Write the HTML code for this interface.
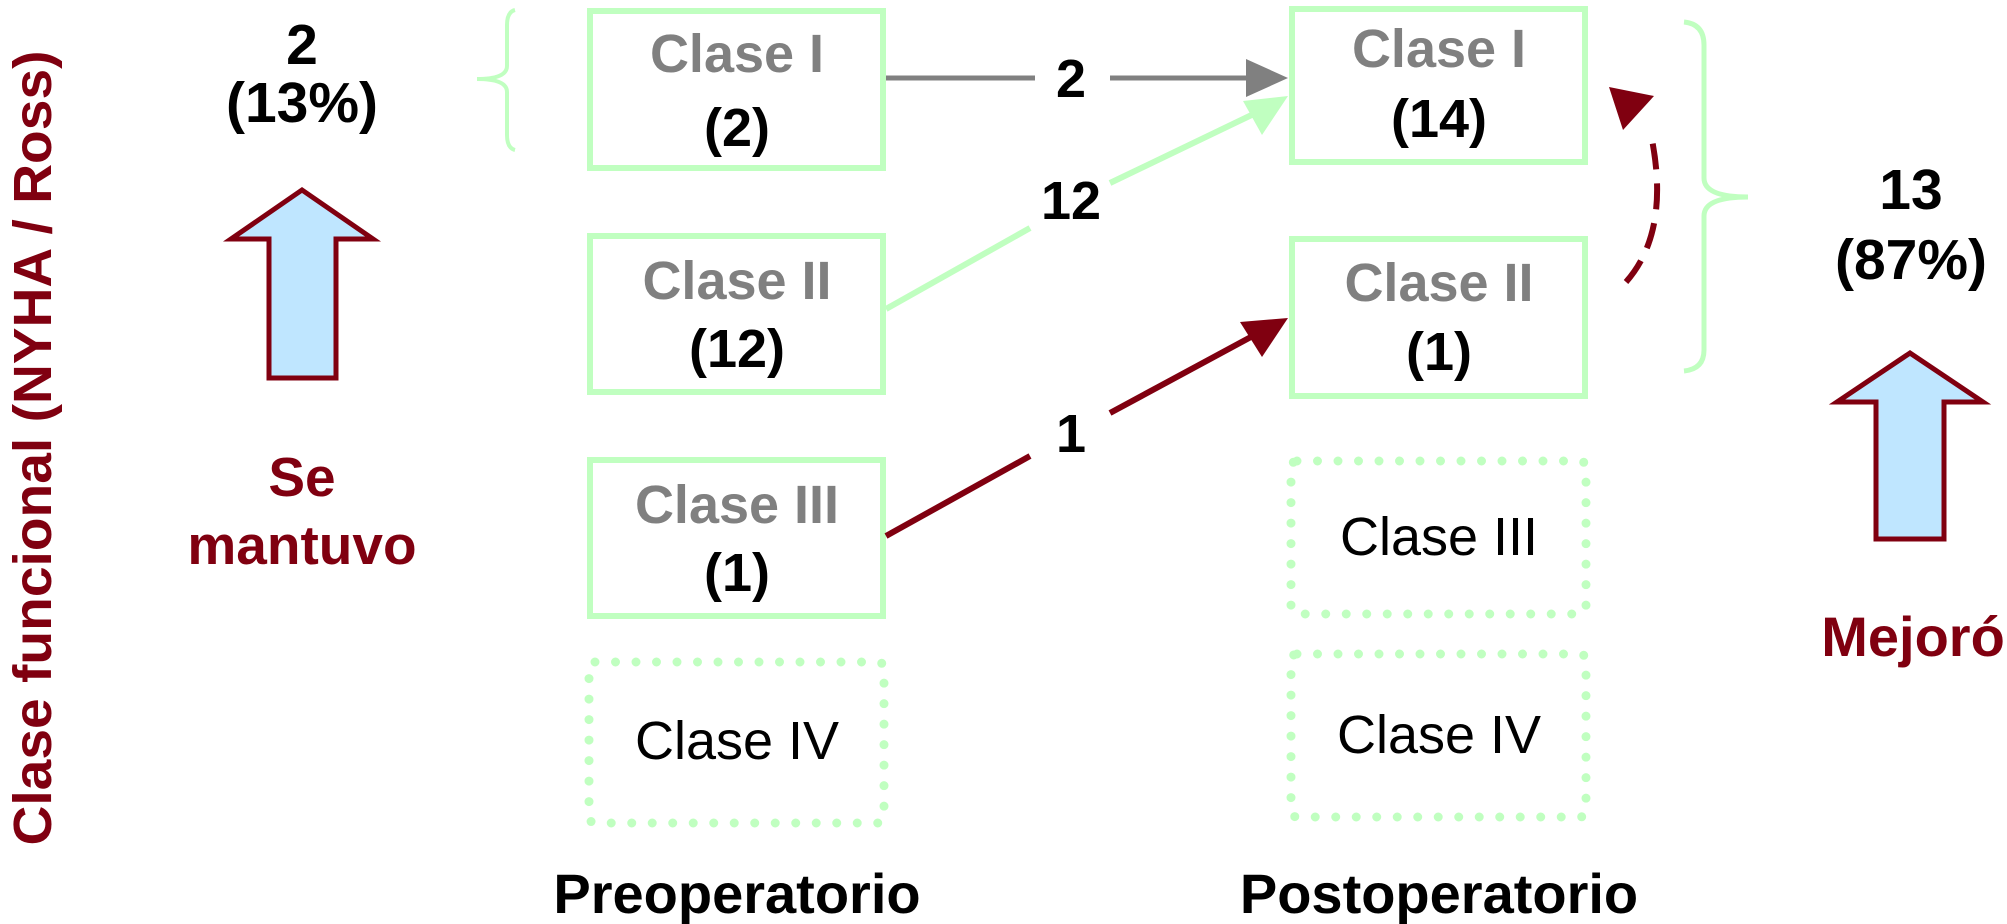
<!DOCTYPE html>
<html><head><meta charset="utf-8"><style>html,body{margin:0;padding:0;background:#fff}svg{display:block}</style></head>
<body>
<svg width="2007" height="924" viewBox="0 0 2007 924" xmlns="http://www.w3.org/2000/svg" font-family="Liberation Sans, Arial, sans-serif">
<!-- vertical title -->
<text transform="translate(51,448) rotate(-90)" text-anchor="middle" font-weight="bold" font-size="54" fill="#800010" textLength="795" lengthAdjust="spacingAndGlyphs">Clase funcional (NYHA / Ross)</text>

<!-- left stats -->
<g font-weight="bold" text-anchor="middle">
<text x="302" y="64" font-size="57">2</text>
<text x="302" y="122" font-size="57">(13%)</text>
<text x="302" y="496" font-size="55" fill="#800010">Se</text>
<text x="302" y="564" font-size="55" fill="#800010">mantuvo</text>
<text x="1911" y="209" font-size="57">13</text>
<text x="1911" y="279" font-size="57">(87%)</text>
<text x="1913" y="656" font-size="56" fill="#800010">Mejoró</text>
</g>

<!-- braces -->
<path d="M515,10 Q507,12 507,25 L507,66 Q507,79 477,79 Q507,79 507,92 L507,135 Q507,148 515,150" fill="none" stroke="#c0ffc0" stroke-width="4"/>
<path d="M1684,22 Q1704,24 1704,45 L1704,178 Q1704,197 1748,197 Q1704,197 1704,216 L1704,350 Q1704,369 1684,371" fill="none" stroke="#c0ffc0" stroke-width="5"/>

<!-- up arrows -->
<path d="M269,378 L269,239 L231,239 L302,190 L373,239 L336,239 L336,378 Z" fill="#bfe6ff" stroke="#800010" stroke-width="5"/>
<path d="M1876,539 L1876,402 L1837,402 L1910,353 L1983,402 L1944,402 L1944,539 Z" fill="#bfe6ff" stroke="#800010" stroke-width="5"/>

<!-- boxes -->
<g fill="none" stroke="#c0ffc0" stroke-width="6">
<rect x="590" y="11" width="293" height="157"/>
<rect x="590" y="236" width="293" height="156"/>
<rect x="590" y="460" width="293" height="156"/>
<rect x="1292" y="9" width="293" height="153"/>
<rect x="1292" y="239" width="293" height="157"/>
</g>
<g fill="none" stroke="#c0ffc0" stroke-width="9" stroke-linecap="round" stroke-dasharray="0 20.5">
<rect x="589" y="662" width="295" height="161" rx="6"/>
<rect x="1291" y="461" width="295" height="153" rx="6"/>
<rect x="1291" y="654" width="295" height="163" rx="6"/>
</g>

<g font-weight="bold" font-size="54" text-anchor="middle">
<text x="737" y="72" fill="#808080">Clase I</text>
<text x="737" y="146">(2)</text>
<text x="737" y="299" fill="#808080">Clase II</text>
<text x="737" y="367">(12)</text>
<text x="737" y="523" fill="#808080">Clase III</text>
<text x="737" y="591">(1)</text>
<text x="1439" y="67" fill="#808080">Clase I</text>
<text x="1439" y="137">(14)</text>
<text x="1439" y="301" fill="#808080">Clase II</text>
<text x="1439" y="370">(1)</text>
<text x="737" y="913" font-size="56">Preoperatorio</text>
<text x="1439" y="913" font-size="56">Postoperatorio</text>
</g>
<g font-size="54" text-anchor="middle">
<text x="737" y="759">Clase IV</text>
<text x="1439" y="555">Clase III</text>
<text x="1439" y="753">Clase IV</text>
</g>

<!-- connectors -->
<line x1="886" y1="78" x2="1035" y2="78" stroke="#808080" stroke-width="5"/>
<line x1="1110" y1="78" x2="1250" y2="78" stroke="#808080" stroke-width="5"/>
<path d="M1246,59 L1288,78 L1246,97 Z" fill="#808080"/>

<line x1="886" y1="309" x2="1030" y2="228" stroke="#c0ffc0" stroke-width="6"/>
<line x1="1110" y1="183" x2="1262" y2="110" stroke="#c0ffc0" stroke-width="6"/>
<path d="M1288,96 L1262,135 L1243,101 Z" fill="#c0ffc0"/>

<line x1="886" y1="536" x2="1030" y2="456" stroke="#800010" stroke-width="6"/>
<line x1="1110" y1="413" x2="1262" y2="331" stroke="#800010" stroke-width="6"/>
<path d="M1288,318 L1262,357 L1240,322 Z" fill="#800010"/>

<g font-weight="bold" font-size="54" text-anchor="middle">
<text x="1071" y="97">2</text>
<text x="1071" y="219">12</text>
<text x="1071" y="452">1</text>
</g>

<path d="M1626,282 Q1672,230 1650,130" fill="none" stroke="#800010" stroke-width="6" stroke-dasharray="26 14"/>
<path d="M1609,87 L1654,96 L1623,130 Z" fill="#800010"/>
</svg>
</body></html>
